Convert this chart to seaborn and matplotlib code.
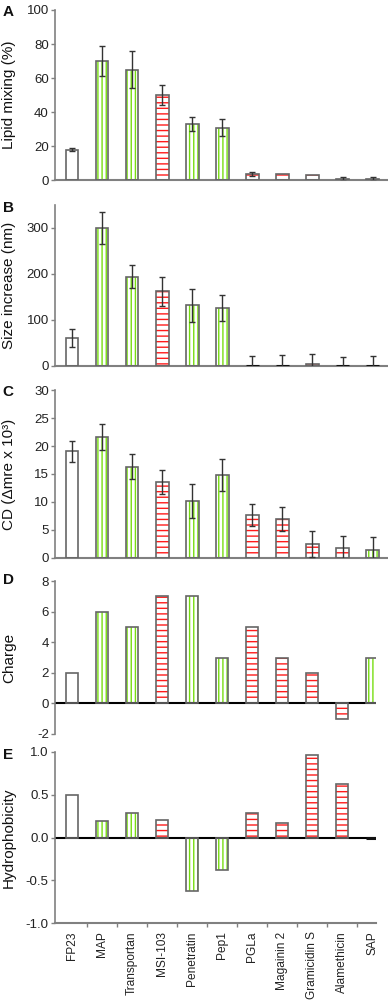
import matplotlib
matplotlib.use('Agg')
import matplotlib.pyplot as plt
from matplotlib.patches import Rectangle
import seaborn as sns
import numpy as np

# peptides and their class (plain / green vertical hatch / red horizontal hatch)
peptides = ['FP23', 'MAP', 'Transportan', 'MSI-103', 'Penetratin', 'Pep1',
            'PGLa', 'Magainin 2', 'Gramicidin S', 'Alamethicin', 'SAP']
kind = ['plain', 'green', 'green', 'red', 'green', 'green',
        'red', 'red', 'red', 'red', 'green']

lipid_mix = [18, 70, 65, 50, 33, 31, 3.7, 3.7, 2.9, 0.8, 0.8]
lipid_mix_err = [1, 9, 11, 6, 4, 5, 1.2, np.nan, np.nan, 1, 1]
size_inc = [61, 300, 194, 162, 132, 125, 0, 0, 4, 0, 0]
size_inc_err = [20, 34, 25, 31, 36, 28, 21, 23, 21, 20, 21]
cd = [19.1, 21.6, 16.3, 13.6, 10.2, 14.8, 7.7, 6.9, 2.5, 1.7, 1.3]
cd_err = [1.9, 2.3, 2.2, 2.1, 3.0, 2.8, 2.0, 2.2, 2.3, 2.1, 2.4]
charge = [2, 6, 5, 7, 7, 3, 5, 3, 2, -1, 3]
hydrophobicity = [0.5, 0.19, 0.29, 0.21, -0.62, -0.38, 0.29, 0.17, 0.97, 0.62, 0.0]

sns.set_style('white')
plt.rcParams['font.family'] = ['Liberation Sans', 'DejaVu Sans']
plt.rcParams['axes.unicode_minus'] = False
plt.rcParams['hatch.linewidth'] = 1.0

W, H = 388, 1001
fig = plt.figure(figsize=(W / 100, H / 100), dpi=100)

GRAY = '#808080'
GREEN = '#77dd11'
RED = '#ff1a1a'


def add_axes(l, t, r, b):
    return fig.add_axes([l / W, 1 - b / H, (r - l) / W, (b - t) / H])


def panel(ax, vals, errs, ylim, yticks, ylabel, letter, top, xright):
    sns.barplot(x=peptides, y=vals, order=peptides, ax=ax, color='white',
                saturation=1, width=0.42, errorbar=None, linewidth=0)
    bars = list(ax.patches)
    for p, k in zip(bars, kind):
        if k == 'green':
            p.set_hatch('||||')
            p.set_edgecolor(GREEN)
        elif k == 'red':
            p.set_hatch('---')
            p.set_edgecolor(RED)
        p.set_linewidth(0)
        flat = abs(p.get_height()) < 1e-9
        ax.add_patch(Rectangle((p.get_x(), p.get_y()), p.get_width(), p.get_height(),
                               fill=False, ec='#111111' if flat else '#666666',
                               lw=2.2 if flat else 1.2, zorder=3))
    if errs is not None:
        xs = [p.get_x() + p.get_width() / 2 for p in bars]
        ax.errorbar(xs, vals, yerr=errs, fmt='none', ecolor='#333333',
                    elinewidth=1, capsize=2, capthick=1, zorder=4)
    ax.set_xlim(-0.567, xright)
    ax.set_ylim(*ylim)
    ax.set_yticks(yticks)
    ax.set_xlabel('')
    ax.set_ylabel('')
    for s in ['top', 'right']:
        ax.spines[s].set_visible(False)
    ax.spines['left'].set_color(GRAY)
    ax.spines['left'].set_linewidth(1.2)
    ax.spines['bottom'].set_color(GRAY)
    ax.spines['bottom'].set_linewidth(1.5)
    ax.tick_params(axis='y', length=3, width=1, color=GRAY, pad=1.5,
                   labelsize=9.5, labelcolor='#222222', left=True)
    ax.tick_params(axis='x', length=0, labelbottom=False)
    bb = ax.get_position()
    fig.text(9 / W, bb.y0 + bb.height / 2, ylabel, rotation=90, ha='center',
             va='center', fontsize=11, color='#111111')
    fig.text(8 / W, 1 - (top + 2) / H, letter, ha='center', va='center',
             fontsize=11, fontweight='bold', color='#111111')
    return bars


axA = add_axes(55, 10, 387, 180.3)
panel(axA, lipid_mix, lipid_mix_err, (0, 100), [0, 20, 40, 60, 80, 100],
      'Lipid mixing (%)', 'A', 10, 10.48)

axB = add_axes(55, 205, 387, 365.7)
panel(axB, size_inc, size_inc_err, (0, 350), [0, 100, 200, 300],
      'Size increase (nm)', 'B', 206, 10.48)

axC = add_axes(55, 390.3, 387, 557.7)
panel(axC, cd, cd_err, (0, 30), [0, 5, 10, 15, 20, 25, 30],
      'CD (\u0394mre x 10\u00b3)', 'C', 390, 10.48)

axD = add_axes(55, 581, 376, 734)
panel(axD, charge, None, (-2, 8), [-2, 0, 2, 4, 6, 8], 'Charge', 'D', 578, 10.13)
axD.spines['bottom'].set_visible(False)
axD.axhline(0, color='black', lw=1.5, zorder=2)

axE = add_axes(55, 752, 376, 923)
panel(axE, hydrophobicity, None, (-1, 1), [-1.0, -0.5, 0.0, 0.5, 1.0],
      'Hydrophobicity', 'E', 753, 10.13)
axE.yaxis.set_major_formatter(matplotlib.ticker.FormatStrFormatter('%.1f'))
axE.axhline(0, color='black', lw=1.5, zorder=2)
axE.set_xticks(range(len(peptides)))
axE.set_xticklabels(peptides, rotation=90, fontsize=8.6, color='#222222')
axE.set_xticks(np.arange(0.5, 10, 1), minor=True)
axE.tick_params(axis='x', which='major', length=0, labelbottom=True, pad=6)
axE.tick_params(axis='x', which='minor', length=3, width=1, color=GRAY,
                direction='out', bottom=True)

fig.savefig('out.png', dpi=100)
